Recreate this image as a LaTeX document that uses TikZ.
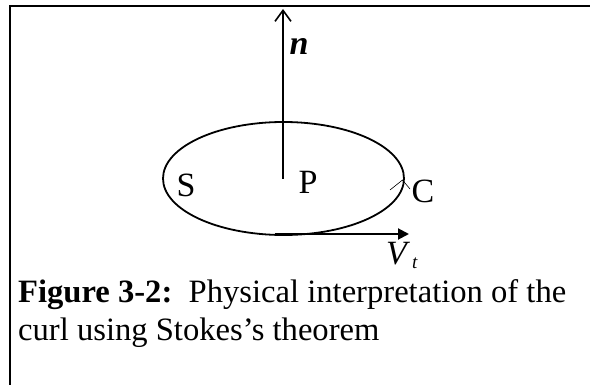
\documentclass[tikz,border=0pt]{standalone}
\usepackage{fontspec}
\setmainfont{Liberation Serif}
\usetikzlibrary{arrows.meta}
\tikzset{
  lbl/.style={font=\fontsize{34}{40}\selectfont, inner sep=0pt},
  capline/.style={font=\fontsize{32.6}{38}\selectfont, inner sep=0pt, anchor=base west,
    text height=0.7em, text depth=0.2em},
}
\begin{document}
\begin{tikzpicture}[x=1pt,y=-1pt]
\useasboundingbox (0,0) rectangle (590,385);
% frame
\draw[line width=2.4pt] (10,385) -- (10,6) -- (590,6);
% surface S with boundary C
\draw[line width=1.8pt] (283.5,178.5) ellipse [x radius=120.5, y radius=56.5];
\draw[line width=0.6pt] (390,190) -- (402.5,180) -- (410,189);
% normal n
\coordinate (P0) at (283,179);
\coordinate (ntip) at (283,9);
\draw[line width=1.6pt,-{Straight Barb[length=11pt,width=16pt]}] (P0) -- (ntip);
\node[lbl] (nlbl) at (299,46) {\textbf{\textit{n}}};
% labels
\node[lbl] (S) at (186,185) {S};
\node[lbl] (P) at (308,182) {P};
\node[lbl] (C) at (423,191) {C};
% tangential velocity
\coordinate (vstart) at (275,234);
\coordinate (vend) at (409,234);
\draw[line width=2pt,-{Triangle[length=11pt,width=11pt]}] (vstart) -- (vend);
\node[lbl,anchor=base west,text depth=0.1em] (Vt) at (386,265) {\textit{V}\kern2pt\raisebox{-0.1em}{\fontsize{19}{19}\selectfont\textit{t}}};
% caption
\node[capline] (cap1) at (18,303) {\textbf{Figure 3-2:}\ \ Physical interpretation of the};
\node[capline] (cap2) at (18,341) {curl using Stokes’s theorem};
\end{tikzpicture}
\end{document}
